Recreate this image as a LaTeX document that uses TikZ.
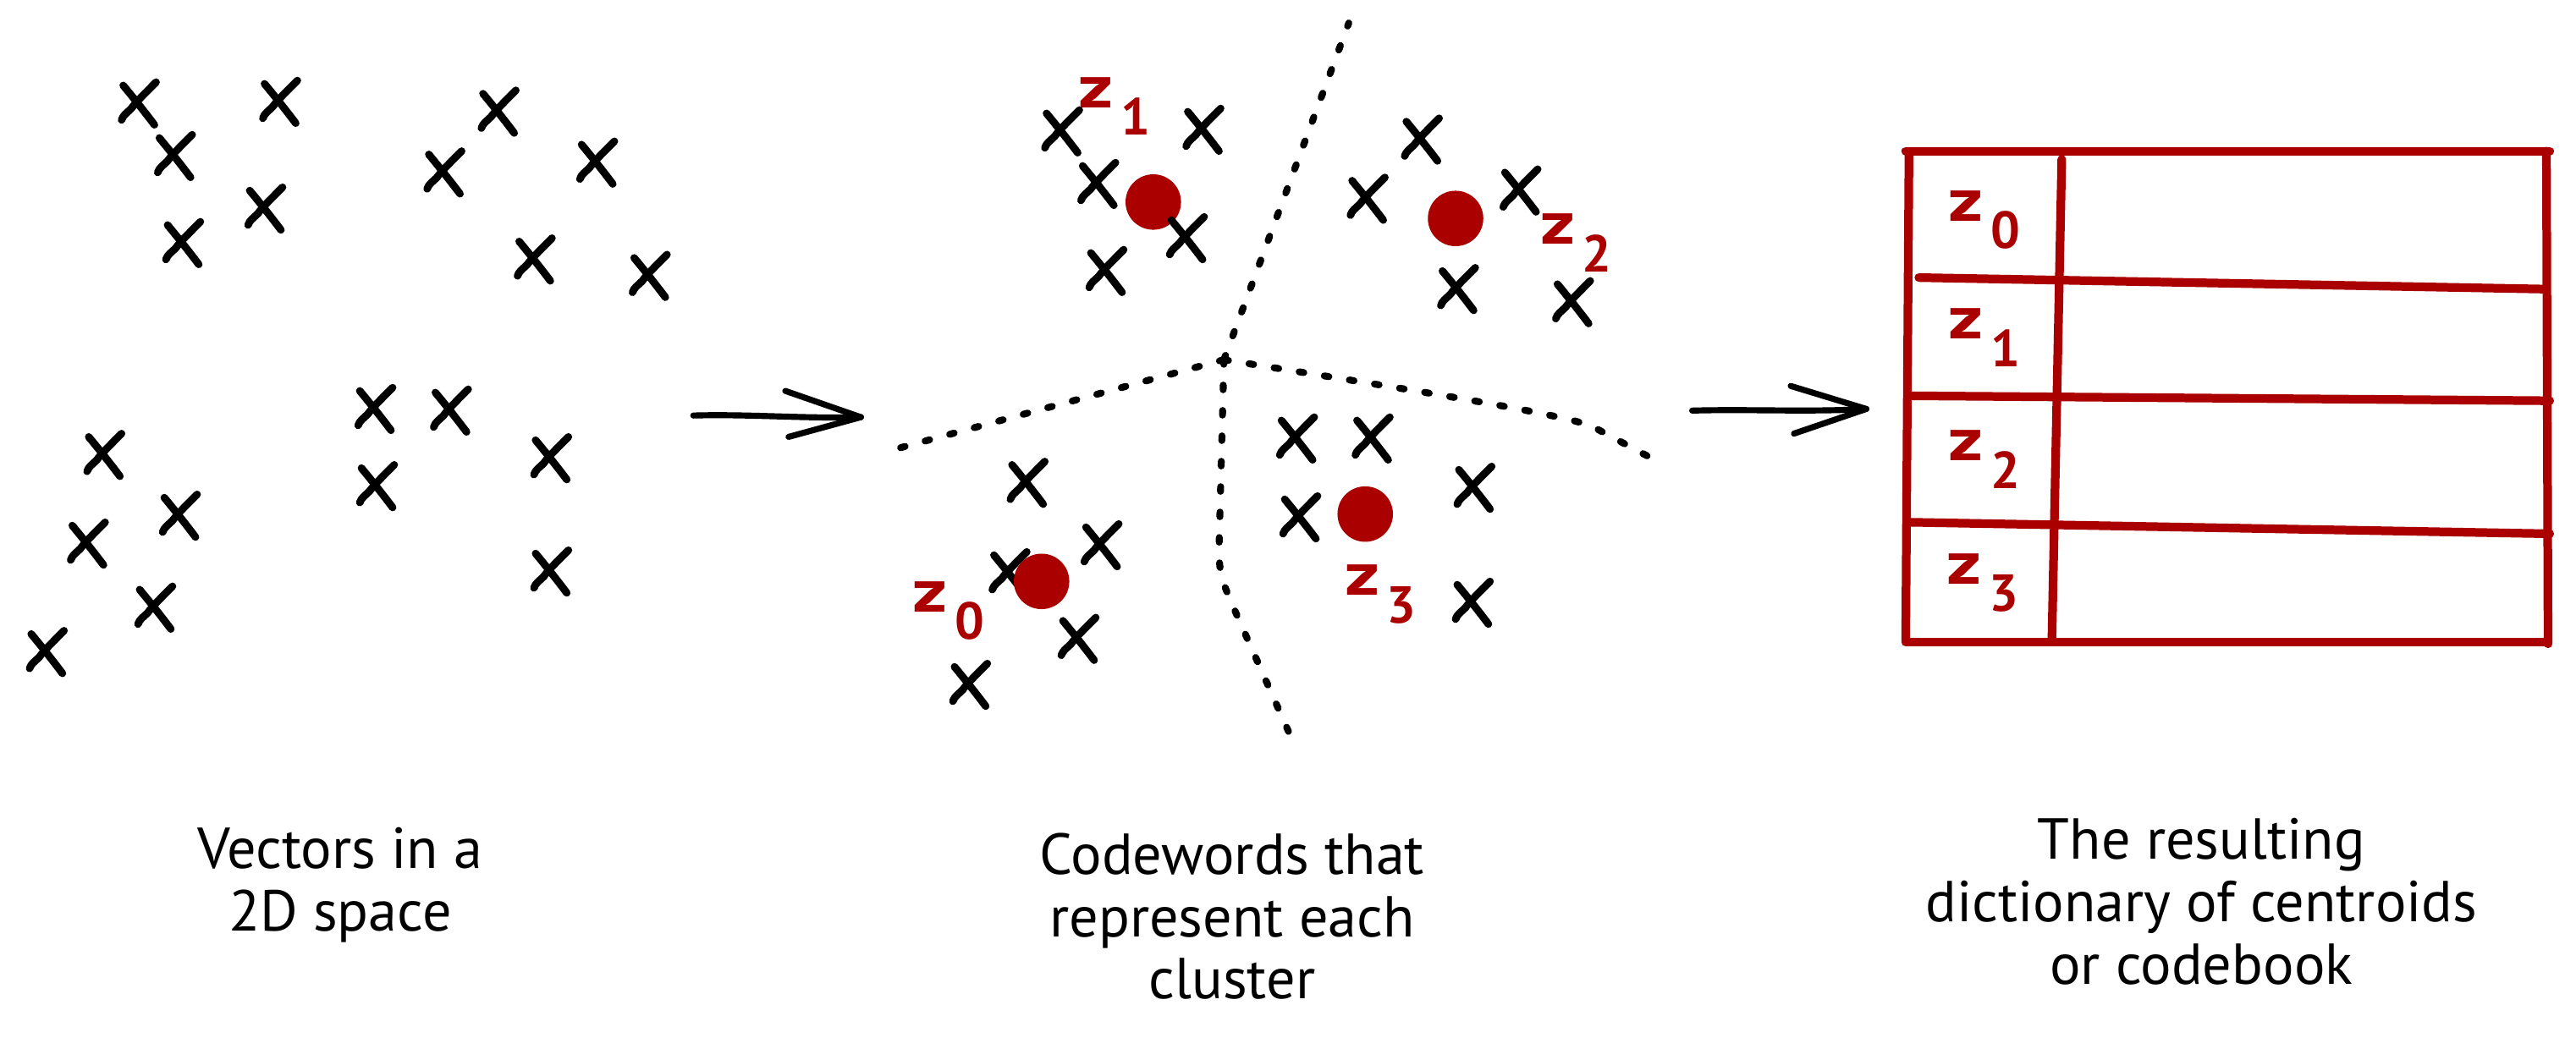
\documentclass[tikz,border=0pt]{standalone}
\usepackage{fontspec}
\usepackage{graphicx}
\setmainfont{PT Sans}
\definecolor{cred}{RGB}{170,0,0}
\newcommand\zl[1]{\scalebox{1.25}[1]{z}\kern1.2pt\raisebox{-4.8pt}{\fontsize{9}{9}\selectfont #1}}
\tikzset{
  xstroke/.style={line width=1.3pt, line cap=round, line join=round},
  xmark/.pic={
    \draw[xstroke] (-9,-11) .. controls (-4,-5) and (4,5) .. (10,13);
    \draw[xstroke] (11,-13) .. controls (4,-6) and (-2,0) .. (-4,3) .. controls (-7,6) and (-9,7) .. (-10,10);
  },
  cdot/.style={circle, fill=cred, inner sep=0pt, minimum size=9.6pt},
  zlab/.style={text=cred, inner sep=0pt, anchor=base west, font=\fontsize{10.5}{11}\bfseries},
  voronoi/.style={line width=1.2pt, line cap=round, dash pattern=on 0.8pt off 3.6pt},
  tabline/.style={draw=cred, line width=1.5pt, line cap=round},
  arrowline/.style={line width=1.05pt, line cap=round},
  caption/.style={align=center, inner sep=0pt, font=\fontsize{10}{10.8}\selectfont},
}
\begin{document}
\begin{tikzpicture}[x=0.01cm, y=-0.01cm]
\useasboundingbox (0,0) rectangle (1568,632);

% ---------- left panel: vectors ----------
\foreach \a/\b in {84/63,170/62,106/95,161/127,111/148,303/68,270/105,363/99,325/158,395/168,
                   228/249,274/250,229/296,335/279,63/277,109/314,53/331,94/370,28/397,335/348}
  \pic at (\a,\b) {xmark};

% ---------- middle panel: clusters ----------
\foreach \a/\b in {646/80,732/79,668/112,673/165,865/85,832/121,925/116,887/176,957/184,
                   789/267,835/267,897/297,791/315,896/367,625/294,670/332,614/349,656/389,590/417}
  \pic at (\a,\b) {xmark};

\node[cdot] (c1) at (702,123) {};
\node[cdot] (c2) at (886,133) {};
\node[cdot] (c0) at (634,354) {};
\node[cdot] (c3) at (831,313) {};
\pic at (722,145) {xmark};

\node[zlab] (m1) at (656,65.5) {\zl{1}};
\node[zlab] (m2) at (937,148.5) {\zl{2}};
\node[zlab] (m0) at (555,372.5) {\zl{0}};
\node[zlab] (m3) at (818,362.5) {\zl{3}};

% Voronoi boundaries
\coordinate (vc) at (745,219);
\coordinate (vtop) at (821,14);
\coordinate (vleft) at (543,274);
\coordinate (vright) at (1009,281);
\coordinate (vbot) at (789,456);
\draw[voronoi] (vc) -- (vtop);
\draw[voronoi] (vc) -- (vleft);
\draw[voronoi] (vc) .. controls (850,236) and (940,250) .. (968,259) -- (vright);
\draw[voronoi] (vc) -- (742,335) .. controls (742,350) and (745,356) .. (750,368) -- (vbot);

% ---------- arrows ----------
\coordinate (a1s) at (422,253);
\coordinate (a1e) at (524,254);
\draw[arrowline] (a1s) .. controls (455,252) and (490,255) .. (a1e);
\draw[arrowline] (a1e) -- ++(-46,-16);
\draw[arrowline] (a1e) -- ++(-44,12);

\coordinate (a2s) at (1030,250);
\coordinate (a2e) at (1136,249);
\draw[arrowline] (a2s) .. controls (1065,249) and (1100,251) .. (a2e);
\draw[arrowline] (a2e) -- ++(-46,-14);
\draw[arrowline] (a2e) -- ++(-44,15);

% ---------- right panel: codebook table ----------
\draw[tabline] (1160,92) -- (1552,92);
\draw[tabline] (1162,93) -- (1160,390);
\draw[tabline] (1550,92) -- (1551,392);
\draw[tabline] (1160,391) -- (1551,391);
\draw[tabline] (1255,97) -- (1249,389);
\draw[tabline] (1168,169) -- (1548,176);
\draw[tabline] (1164,241) -- (1552,244);
\draw[tabline] (1163,318) -- (1552,325);

\node[zlab] (t0) at (1185.5,134.5) {\zl{0}};
\node[zlab] (t1) at (1185.5,206.5) {\zl{1}};
\node[zlab] (t2) at (1185.5,280.5) {\zl{2}};
\node[zlab] (t3) at (1184.5,355.5) {\zl{3}};

% ---------- captions ----------
\node[caption] (cap1) at (207,539) {Vectors in a\\2D space};
\node[caption] (cap2) at (750,558) {Codewords that\\represent each\\cluster};
\node[caption] (cap3) at (1340,549) {The resulting\\dictionary of centroids\\or codebook};
\end{tikzpicture}
\end{document}
